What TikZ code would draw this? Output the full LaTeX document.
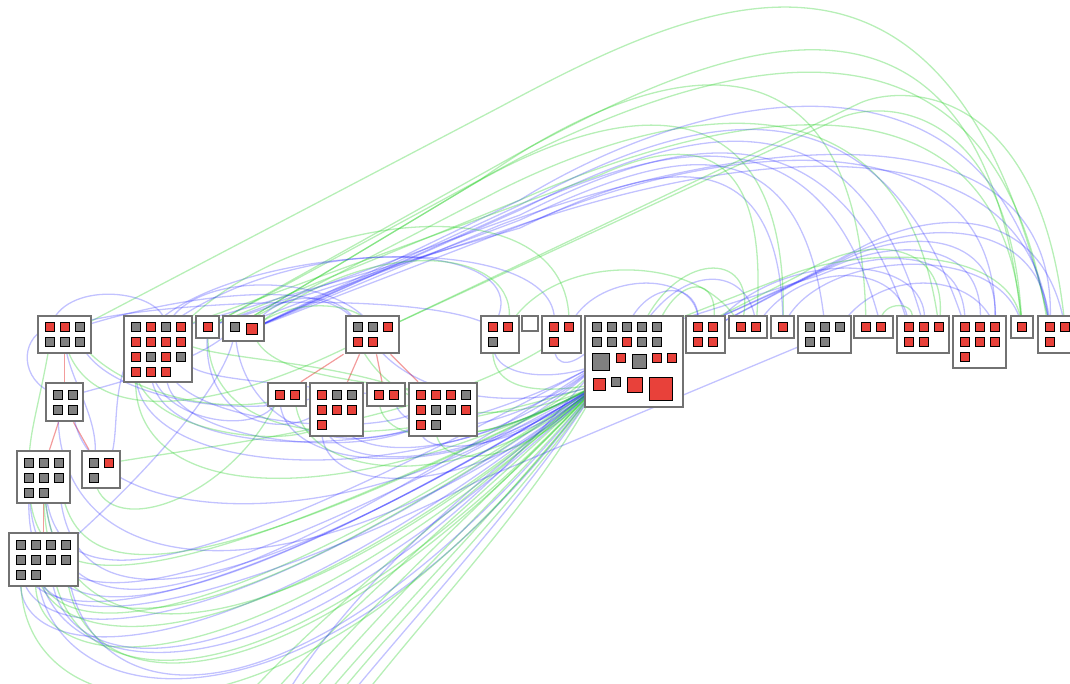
\documentclass[tikz,border=0pt]{standalone}
\usetikzlibrary{calc}
\pgfdeclarelayer{bg}
\pgfsetlayers{bg,main}
\definecolor{sqred}{HTML}{E8413A}
\definecolor{sqgray}{HTML}{808080}
\definecolor{boxline}{HTML}{727272}
\definecolor{lgreen}{RGB}{30,205,30}
\definecolor{lblue}{RGB}{20,20,255}
\definecolor{tred}{RGB}{235,90,90}
\tikzset{
  grp/.style={draw=boxline, line width=2.5pt, fill=white, inner sep=0pt, rectangle},
  sqb/.style={draw=black, line width=1pt, inner sep=0pt, rectangle},
  bl/.style={draw=lblue, draw opacity=0.26, line width=1.3pt},
  gr/.style={draw=lgreen, draw opacity=0.32, line width=1.3pt},
  tr/.style={draw=tred, draw opacity=0.6, line width=1.2pt},
}
\newcommand\mygrp[5]{\node[grp, minimum width={#4-#2}, minimum height={#5-#3}] (#1) at ({(#2+#4)/2},{(#3+#5)/2}) {};}
\newcommand\mysq[5]{\node[sqb, fill=#5, minimum size=#4] (#1) at (#2,#3) {};}
\newcommand\rs[3]{\mysq{#1}{#2}{#3}{8.5pt}{sqred}}
\newcommand\gs[3]{\mysq{#1}{#2}{#3}{8.5pt}{sqgray}}
\begin{document}
\begin{tikzpicture}[x=1pt,y=-1pt]
\useasboundingbox (0,0) rectangle (1070,683);
\clip (0,0) rectangle (1070,683);
% ---------- groups ----------
\mygrp{A}{38}{316}{91}{353}
\mygrp{B}{124}{316}{192}{382}
\mygrp{C}{196}{316}{219}{338}
\mygrp{D}{223}{316}{264}{341}
\mygrp{E}{46}{383}{83}{421}
\mygrp{F}{17}{451}{70}{503}
\mygrp{G}{82}{451}{120}{488}
\mygrp{H}{9}{533}{78}{586}
\mygrp{I}{346}{316}{399}{353}
\mygrp{J}{268}{383}{306}{406}
\mygrp{K}{310}{383}{363}{436}
\mygrp{L}{367}{383}{405}{406}
\mygrp{M}{409}{383}{477}{436}
\mygrp{N}{481}{316}{519}{353}
\mygrp{O}{522}{316}{538}{331}
\mygrp{P}{542}{316}{581}{353}
\mygrp{Q}{585}{316}{683}{407}
\mygrp{R}{686}{316}{725}{353}
\mygrp{S}{729}{316}{767}{338}
\mygrp{T}{771}{316}{794}{338}
\mygrp{U}{798}{316}{851}{353}
\mygrp{V}{854}{316}{893}{338}
\mygrp{W}{897}{316}{949}{353}
\mygrp{X}{953}{316}{1006}{368}
\mygrp{Y}{1011}{316}{1033}{338}
\mygrp{Z}{1038}{316}{1076}{353}
% ---------- members ----------
\rs{a1}{50}{327}\rs{a2}{65}{327}\gs{a3}{80}{327}
\gs{a4}{50}{342}\gs{a5}{65}{342}\gs{a6}{80}{342}
\gs{b1}{136}{327}\rs{b2}{151}{327}\gs{b3}{166}{327}\rs{b4}{181}{327}
\rs{b5}{136}{342}\rs{b6}{151}{342}\rs{b7}{166}{342}\rs{b8}{181}{342}
\rs{b9}{136}{357}\gs{b10}{151}{357}\rs{b11}{166}{357}\gs{b12}{181}{357}
\rs{b13}{136}{372}\rs{b14}{151}{372}\rs{b15}{166}{372}
\rs{c1}{208}{327}
\gs{d1}{235}{327}\mysq{d2}{252}{329}{11.5pt}{sqred}
\gs{e1}{58}{395}\gs{e2}{73}{395}\gs{e3}{58}{410}\gs{e4}{73}{410}
\gs{f1}{29}{463}\gs{f2}{44}{463}\gs{f3}{59}{463}
\gs{f4}{29}{478}\gs{f5}{44}{478}\gs{f6}{59}{478}
\gs{f7}{29}{493}\gs{f8}{44}{493}
\gs{g1}{94}{463}\rs{g2}{109}{463}\gs{g3}{94}{478}
\gs{h1}{21}{545}\gs{h2}{36}{545}\gs{h3}{51}{545}\gs{h4}{66}{545}
\gs{h5}{21}{560}\gs{h6}{36}{560}\gs{h7}{51}{560}\gs{h8}{66}{560}
\gs{h9}{21}{575}\gs{h10}{36}{575}
\gs{i1}{358}{327}\gs{i2}{373}{327}\rs{i3}{388}{327}
\rs{i4}{358}{342}\rs{i5}{373}{342}
\rs{j1}{280}{395}\rs{j2}{295}{395}
\rs{k1}{322}{395}\gs{k2}{337}{395}\gs{k3}{352}{395}
\rs{k4}{322}{410}\rs{k5}{337}{410}\rs{k6}{352}{410}
\rs{k7}{322}{425}
\rs{l1}{379}{395}\rs{l2}{394}{395}
\rs{m1}{421}{395}\rs{m2}{436}{395}\rs{m3}{451}{395}\gs{m4}{466}{395}
\rs{m5}{421}{410}\gs{m6}{436}{410}\gs{m7}{451}{410}\rs{m8}{466}{410}
\rs{m9}{421}{425}\gs{m10}{436}{425}
\rs{n1}{493}{327}\rs{n2}{508}{327}\gs{n3}{493}{342}
\rs{p1}{554}{327}\rs{p2}{569}{327}\rs{p3}{554}{342}
\gs{q1}{597}{327}\gs{q2}{612}{327}\gs{q3}{627}{327}\gs{q4}{642}{327}\gs{q5}{657}{327}
\gs{q6}{597}{342}\gs{q7}{612}{342}\rs{q8}{627}{342}\gs{q9}{642}{342}\gs{q10}{657}{342}
\mysq{q11}{601}{362}{17pt}{sqgray}\rs{q12}{621}{358}\mysq{q13}{639}{361}{14pt}{sqgray}
\rs{q14}{657}{358}\rs{q15}{672}{358}
\mysq{q16}{599}{384}{12pt}{sqred}\gs{q17}{616}{382}
\mysq{q18}{635}{385}{15pt}{sqred}\mysq{q19}{661}{389}{23pt}{sqred}
\rs{r1}{698}{327}\rs{r2}{713}{327}\rs{r3}{698}{342}\rs{r4}{713}{342}
\rs{s1}{741}{327}\rs{s2}{756}{327}
\rs{t1}{783}{327}
\gs{u1}{810}{327}\gs{u2}{825}{327}\gs{u3}{840}{327}\gs{u4}{810}{342}\gs{u5}{825}{342}
\rs{v1}{866}{327}\rs{v2}{881}{327}
\rs{w1}{909}{327}\rs{w2}{924}{327}\rs{w3}{939}{327}\rs{w4}{909}{342}\rs{w5}{924}{342}
\rs{x1}{965}{327}\rs{x2}{980}{327}\rs{x3}{995}{327}
\rs{x4}{965}{342}\rs{x5}{980}{342}\rs{x6}{995}{342}\rs{x7}{965}{357}
\rs{y1}{1022}{327}
\rs{z1}{1050}{327}\rs{z2}{1065}{327}\rs{z3}{1050}{342}
% free ends below the picture
\coordinate (ex1) at (225,720);\coordinate (ex2) at (250,720);
\coordinate (ex3) at (272,720);\coordinate (ex4) at (290,720);
\coordinate (ex5) at (305,720);\coordinate (ex6) at (318,720);
\coordinate (ex7) at (330,720);\coordinate (ex8) at (345,720);
% ---------- connectors ----------
\begin{pgfonlayer}{bg}
% tree links
\draw[tr] (A.south) -- (E.north);
\draw[tr] ($(E.south)+(-6,0)$) -- ($(F.north)+(6,0)$);
\draw[tr] ($(E.south)+(9,0)$) -- ($(G.north)+(-12,0)$);
\draw[tr] (F.south) -- (H.north);
\draw[tr] ($(I.south)+(-29,0)$) -- ($(J.north)+(14,0)$);
\draw[tr] ($(I.south)+(-13,0)$) -- ($(K.north)+(11,0)$);
\draw[tr] ($(I.south)+(4,0)$) -- ($(L.north)+(-4,0)$);
\draw[tr] ($(I.south)+(18,0)$) -- ($(M.north)+(-25,0)$);
% top arcs
\draw[gr] (a3) -- (500,107) .. controls (700,0) and (950,-120) .. (z1);
\draw[gr] (c1) -- (530,147) .. controls (700,57) and (980,-80) .. (y1);
\draw[gr] (c1) -- (520,158) .. controls (700,70) and (1000,-40) .. (z3);
\draw[gr] (d1) -- (480,180) .. controls (620,80) and (860,-20) .. (v1);
\draw[gr] (d1) -- (470,186) .. controls (600,110) and (790,60) .. (t1);
\draw[gr] (d1) -- (500,190) .. controls (640,120) and (900,40) .. (w3);
\draw[gr] (c1) -- (520,200) .. controls (700,120) and (1000,40) .. (y1);
\draw[bl] (d2) -- (520,200) .. controls (680,100) and (990,10) .. (z1);
\draw[bl] (d2) -- (520,205) .. controls (660,130) and (870,40) .. (x1);
\draw[bl] (d2) -- (520,210) .. controls (660,140) and (850,60) .. (w2);
\draw[bl] (c1) -- (520,215) .. controls (650,150) and (830,80) .. (w1);
\draw[bl] (d2) -- (510,213) .. controls (650,150) and (820,90) .. (v2);
\draw[bl] (d2) -- (500,225) .. controls (700,150) and (1060,80) .. (z1);
\draw[bl] (c1) -- (500,232) .. controls (700,160) and (1040,95) .. (z3);
\draw[bl] (d1) -- (520,220) .. controls (650,160) and (800,100) .. (u2);
\draw[bl] (b4) -- (520,228) .. controls (640,170) and (780,120) .. (t1);
\draw[bl] (d2) -- (540,218) .. controls (700,150) and (1000,100) .. (x3);
\draw[gr] (i3) -- (860,103) .. controls (900,85) and (1040,80) .. (z2);
\draw[gr] (i3) -- (840,118) .. controls (880,100) and (1010,100) .. (y1);
\draw[gr] (b4) -- (600,175) .. controls (700,130) and (770,150) .. (s2);
% arcs near the left cluster
\draw[bl] (b2) .. controls (250,240) and (560,230) .. (p1);
\draw[gr] (b4) .. controls (300,210) and (570,180) .. (p2);
\draw[bl] (b3) .. controls (300,230) and (540,240) .. (n1);
\draw[gr] (d2) .. controls (380,230) and (520,250) .. (n2);
\draw[bl] (a1) .. controls (70,280) and (160,290) .. (b3);
\draw[bl] (a3) .. controls (200,290) and (330,280) .. (i1);
\draw[bl] (b3) .. controls (200,270) and (330,275) .. (i2);
\draw[bl] (d2) .. controls (280,290) and (340,290) .. (i1);
\draw[gr] (d2) .. controls (290,300) and (350,300) .. (i2);
\draw[bl] (a2) .. controls (150,300) and (420,290) .. (n1);
% right-side arcs
\draw[bl] (r2) -- (860,248) .. controls (930,210) and (1040,200) .. (z2);
\draw[bl] (r2) -- (850,255) .. controls (920,220) and (1040,215) .. (z1);
\draw[bl] (r1) -- (840,262) .. controls (900,230) and (1000,225) .. (x3);
\draw[bl] (r1) -- (830,268) .. controls (890,240) and (985,235) .. (x2);
\draw[bl] (q5) -- (820,275) .. controls (880,250) and (965,245) .. (x1);
\draw[gr] (r1) -- (800,275) .. controls (860,235) and (950,235) .. (w3);
\draw[gr] (q5) -- (790,275) .. controls (850,250) and (1010,240) .. (y1);
\draw[bl] (r2) .. controls (780,250) and (930,250) .. (w2);
\draw[bl] (s2) .. controls (800,260) and (900,260) .. (w1);
\draw[bl] (t1) .. controls (820,250) and (1000,240) .. (y1);
\draw[bl] (u3) .. controls (880,270) and (970,270) .. (x3);
\draw[gr] (q4) .. controls (680,250) and (760,250) .. (s1);
\draw[bl] (q4) .. controls (690,260) and (750,270) .. (s2);
\draw[bl] (q3) .. controls (650,280) and (700,280) .. (r1);
\draw[gr] (q5) .. controls (680,275) and (720,275) .. (r2);
\draw[gr] (v2) .. controls (880,300) and (920,300) .. (w1);
\draw[bl] (p2) .. controls (600,270) and (700,270) .. (r1);
\draw[gr] (n2) .. controls (560,250) and (700,255) .. (s1);
% fan from Q to the bottom edge
\draw[gr] (q16) .. controls (480,490) and (330,600) .. (ex1);
\draw[gr] (q16) .. controls (490,490) and (350,600) .. (ex2);
\draw[gr] (q16) .. controls (500,490) and (370,600) .. (ex3);
\draw[gr] (q16) .. controls (505,495) and (385,600) .. (ex4);
\draw[gr] (q16) .. controls (510,500) and (395,610) .. (ex5);
\draw[gr] (q16) .. controls (520,500) and (405,610) .. (ex6);
\draw[bl] (q16) .. controls (520,505) and (410,620) .. (ex7);
\draw[gr] (q16) .. controls (530,510) and (420,620) .. (ex8);
\draw[bl] (q16) .. controls (480,480) and (340,590) .. (ex3);
% U-shaped links from F and H to Q
\draw[bl] (h9) .. controls (15,660) and (200,700) .. (q16);
\draw[gr] (h10) .. controls (30,670) and (220,720) .. (q16);
\draw[bl] (h5) .. controls (20,640) and (180,680) .. (q16);
\draw[gr] (h6) .. controls (40,650) and (230,690) .. (q16);
\draw[bl] (h1) .. controls (15,620) and (150,660) .. (q16);
\draw[gr] (h2) .. controls (30,640) and (170,670) .. (q16);
\draw[bl] (f7) .. controls (25,640) and (160,650) .. (q16);
\draw[gr] (f8) .. controls (45,660) and (200,660) .. (q16);
\draw[bl] (f4) .. controls (30,620) and (130,640) .. (q16);
\draw[bl] (f5) .. controls (50,640) and (180,640) .. (q11);
\draw[gr] (f1) .. controls (25,600) and (120,620) .. (q16);
\draw[bl] (f6) .. controls (65,620) and (200,630) .. (q16);
\draw[gr] (h3) .. controls (55,700) and (260,740) .. (q16);
\draw[bl] (h4) .. controls (70,720) and (290,760) .. (q16);
\draw[bl] (h7) .. controls (50,680) and (240,720) .. (q16);
\draw[gr] (h8) .. controls (70,700) and (270,740) .. (q16);
\draw[bl] (f2) .. controls (45,600) and (140,610) .. (q11);
\draw[gr] (f3) .. controls (65,590) and (170,600) .. (q16);
\draw[bl] (h2) .. controls (40,700) and (300,720) .. (q11);
\draw[gr] (f2) .. controls (40,660) and (240,690) .. (q16);
\draw[bl] (h6) .. controls (45,730) and (330,750) .. (q16);
\draw[gr] (h9) .. controls (20,740) and (300,780) .. (q16);
% middle loops
\draw[bl] (e3) .. controls (60,600) and (330,600) .. (q16);
\draw[bl] (e4) .. controls (90,540) and (400,540) .. (q11);
\draw[gr] (g3) .. controls (110,540) and (230,500) .. (j1);
\draw[gr] (g2) .. controls (250,440) and (430,420) .. (p3);
\draw[bl] (h4) .. controls (150,470) and (230,380) .. (d1);
\draw[bl] (u4) -- (480,480) .. controls (300,570) and (80,650) .. (h10);
\draw[bl] (b13) .. controls (140,470) and (380,500) .. (q16);
\draw[bl] (b14) .. controls (160,460) and (400,470) .. (q11);
\draw[bl] (b15) .. controls (170,440) and (350,460) .. (m9);
\draw[gr] (b9) .. controls (130,430) and (280,450) .. (k7);
\draw[bl] (b10) .. controls (150,420) and (260,440) .. (j1);
\draw[gr] (b13) .. controls (130,500) and (330,520) .. (q16);
\draw[bl] (d1) .. controls (240,420) and (330,460) .. (m9);
\draw[gr] (c1) .. controls (205,430) and (320,470) .. (q16);
\draw[bl] (c1) .. controls (200,420) and (280,440) .. (k4);
\draw[bl] (n3) .. controls (495,380) and (560,380) .. (q11);
\draw[gr] (n3) .. controls (490,400) and (560,390) .. (q16);
\draw[bl] (p3) .. controls (555,370) and (575,365) .. (q6);
\draw[bl] (i5) .. controls (420,400) and (520,410) .. (q16);
\draw[gr] (i4) .. controls (400,420) and (500,430) .. (q16);
\draw[bl] (k4) .. controls (320,470) and (450,480) .. (q16);
\draw[bl] (k5) .. controls (340,460) and (470,470) .. (q11);
\draw[gr] (l1) .. controls (380,450) and (480,450) .. (q16);
\draw[bl] (l2) .. controls (400,440) and (500,440) .. (q11);
\draw[bl] (m9) .. controls (420,460) and (520,450) .. (q16);
\draw[gr] (m5) .. controls (440,450) and (540,430) .. (q11);
\draw[bl] (j1) .. controls (280,470) and (450,490) .. (q16);
\draw[gr] (j2) .. controls (300,480) and (460,500) .. (q16);
\draw[bl] (k7) .. controls (320,500) and (480,500) .. (q16);
\draw[gr] (m10) .. controls (436,470) and (520,470) .. (q16);
% left-side links
\draw[gr] (a4) .. controls (40,400) and (30,430) .. (f1);
\draw[bl] (a5) .. controls (70,380) and (100,420) .. (g1);
\draw[bl] (a1) .. controls (20,340) and (20,380) .. (e1);
\draw[bl] (a6) .. controls (110,400) and (250,420) .. (k1);
\draw[gr] (a6) .. controls (120,390) and (220,420) .. (j2);
\draw[bl] (b5) .. controls (110,390) and (120,430) .. (g2);
\draw[bl] (e2) .. controls (130,380) and (200,360) .. (d1);
\draw[gr] (a5) .. controls (90,420) and (200,420) .. (i4);
\draw[bl] (b12) .. controls (200,380) and (260,380) .. (l1);
\draw[gr] (b8) .. controls (220,360) and (330,360) .. (m1);
\draw[bl] (b11) .. controls (170,420) and (360,440) .. (m5);
\draw[gr] (d2) .. controls (270,380) and (380,380) .. (m2);
\end{pgfonlayer}
\end{tikzpicture}
\end{document}
